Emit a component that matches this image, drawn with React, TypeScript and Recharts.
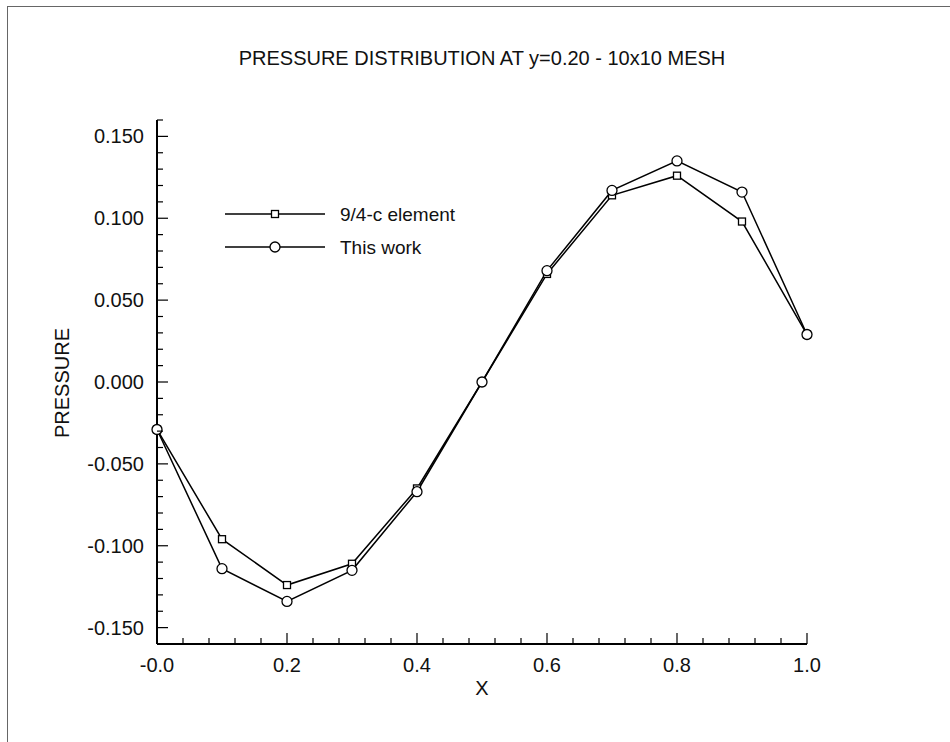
import { LineChart, Line, XAxis, YAxis } from 'recharts'

const xValues = [0, 0.1, 0.2, 0.3, 0.4, 0.5, 0.6, 0.7, 0.8, 0.9, 1.0]
const elementValues = [-0.029, -0.096, -0.124, -0.111, -0.065, 0.0, 0.066, 0.114, 0.126, 0.098, 0.029]
const thisWorkValues = [-0.029, -0.114, -0.134, -0.115, -0.067, 0.0, 0.068, 0.117, 0.135, 0.116, 0.029]

const xTicks = [0, 0.04, 0.08, 0.12, 0.16, 0.2, 0.24, 0.28, 0.32, 0.36, 0.4, 0.44, 0.48, 0.52, 0.56, 0.6, 0.64, 0.68, 0.72, 0.76, 0.8, 0.84, 0.88, 0.92, 0.96, 1.0]
const xTickLabels = ['-0.0', '0.2', '0.4', '0.6', '0.8', '1.0']
const yTicks = [-0.15, -0.14, -0.13, -0.12, -0.11, -0.1, -0.09, -0.08, -0.07, -0.06, -0.05, -0.04, -0.03, -0.02, -0.01, 0, 0.01, 0.02, 0.03, 0.04, 0.05, 0.06, 0.07, 0.08, 0.09, 0.1, 0.11, 0.12, 0.13, 0.14, 0.15, 0.16]

const seriesNames = ['9/4-c element', 'This work']

const data = xValues.map((x, i) => ({ x, element: elementValues[i], thisWork: thisWorkValues[i] }))

const FONT = '"Liberation Sans", Arial, Helvetica, sans-serif'

const XTick = (props: any) => {
  const { x, y, index } = props
  const major = index % 5 === 0
  return (
    <g>
      <line x1={x} y1={y} x2={x} y2={y - (major ? 11 : 6)} stroke="#000" strokeWidth={1.2} />
      {major && (
        <text x={x} y={y + 21} textAnchor="middle" dominantBaseline="central" fontSize={20} fontFamily={FONT} fill="#111">
          {xTickLabels[index / 5]}
        </text>
      )}
    </g>
  )
}

const YTick = (props: any) => {
  const { x, y, payload } = props
  const v = payload.value
  const major = Math.round(v * 100) % 5 === 0
  return (
    <g>
      <line x1={x} y1={y} x2={x + (major ? 11 : 6)} y2={y} stroke="#000" strokeWidth={1.2} />
      {major && (
        <text x={x - 13} y={y} textAnchor="end" dominantBaseline="central" fontSize={20} fontFamily={FONT} fill="#111">
          {v.toFixed(3)}
        </text>
      )}
    </g>
  )
}

const SquareDot = (props: any) => {
  const { cx, cy } = props
  if (cx == null || cy == null) return null
  return <rect x={cx - 3.5} y={cy - 3.5} width={7} height={7} fill="#fff" stroke="#000" strokeWidth={1.3} />
}

const LegendBox = () => (
  <svg width={260} height={60} style={{ position: 'absolute', left: 225, top: 204 }}>
    <line x1={0} y1={10} x2={100} y2={10} stroke="#000" strokeWidth={1.3} />
    <rect x={46.5} y={6.5} width={7} height={7} fill="#fff" stroke="#000" strokeWidth={1.3} />
    <text x={115} y={10} dominantBaseline="central" fontSize={19} fontFamily={FONT} fill="#111">{seriesNames[0]}</text>
    <line x1={0} y1={43} x2={100} y2={43} stroke="#000" strokeWidth={1.3} />
    <circle cx={50} cy={43} r={5} fill="#fff" stroke="#000" strokeWidth={1.3} />
    <text x={115} y={43} dominantBaseline="central" fontSize={19} fontFamily={FONT} fill="#111">{seriesNames[1]}</text>
  </svg>
)

export default function App() {
  return (
    <div style={{ position: 'absolute', left: 0, top: 0, width: 950, height: 742, background: '#fff' }}>
      <div style={{ position: 'absolute', left: 7, top: 6, width: 943, height: 736, borderLeft: '1px solid #666', borderTop: '1px solid #666' }} />
      <LineChart width={950} height={742} data={data} margin={{ top: 120, right: 143, bottom: 0, left: 0 }}>
        <XAxis
          dataKey="x"
          type="number"
          domain={[0, 1]}
          ticks={xTicks}
          interval={0}
          tickSize={0}
          tickMargin={0}
          height={98}
          tickLine={false}
          axisLine={{ stroke: '#000', strokeWidth: 2 }}
          tick={XTick}
        />
        <YAxis
          type="number"
          domain={[-0.16, 0.16]}
          ticks={yTicks}
          interval={0}
          tickSize={0}
          tickMargin={0}
          width={157}
          tickLine={false}
          axisLine={{ stroke: '#000', strokeWidth: 2 }}
          tick={YTick}
        />
        <Line
          dataKey="element"
          name={seriesNames[0]}
          stroke="#000"
          strokeWidth={1.5}
          dot={SquareDot}
          isAnimationActive={false}
        />
        <Line
          dataKey="thisWork"
          name={seriesNames[1]}
          stroke="#000"
          strokeWidth={1.5}
          dot={{ r: 5, fill: '#fff', stroke: '#000', strokeWidth: 1.3 }}
          isAnimationActive={false}
        />
      </LineChart>
      <LegendBox />
      <div style={{ position: 'absolute', left: 0, width: 964, top: 47, textAlign: 'center', fontFamily: FONT, fontSize: 20, color: '#111' }}>
        PRESSURE DISTRIBUTION AT y=0.20 - 10x10 MESH
      </div>
      <div style={{ position: 'absolute', left: 0, width: 964, top: 677, textAlign: 'center', fontFamily: FONT, fontSize: 20, color: '#111' }}>
        X
      </div>
      <div style={{ position: 'absolute', left: 62, top: 383, transform: 'translate(-50%, -50%) rotate(-90deg)', fontFamily: FONT, fontSize: 20, color: '#111', whiteSpace: 'nowrap' }}>
        PRESSURE
      </div>
    </div>
  )
}
